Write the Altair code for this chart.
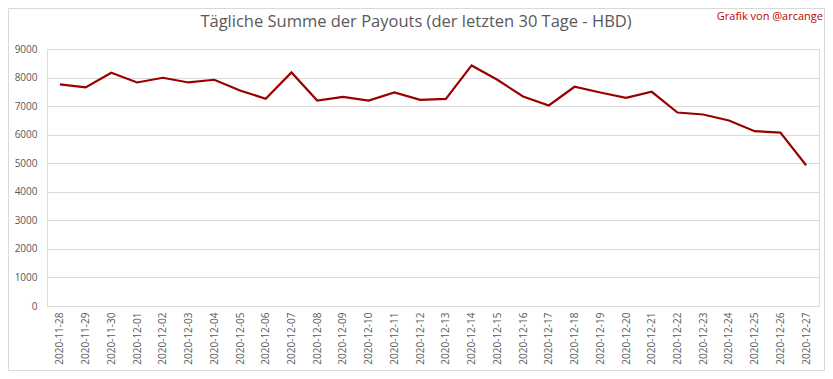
import altair as alt
import pandas as pd

dates = [
    "2020-11-28", "2020-11-29", "2020-11-30", "2020-12-01", "2020-12-02",
    "2020-12-03", "2020-12-04", "2020-12-05", "2020-12-06", "2020-12-07",
    "2020-12-08", "2020-12-09", "2020-12-10", "2020-12-11", "2020-12-12",
    "2020-12-13", "2020-12-14", "2020-12-15", "2020-12-16", "2020-12-17",
    "2020-12-18", "2020-12-19", "2020-12-20", "2020-12-21", "2020-12-22",
    "2020-12-23", "2020-12-24", "2020-12-25", "2020-12-26", "2020-12-27",
]
payouts = [
    7758, 7653, 8168, 7828, 7993,
    7828, 7923, 7547, 7256, 8179,
    7196, 7326, 7196, 7477, 7221,
    7256, 8425, 7923, 7337, 7021,
    7677, 7478, 7291, 7502, 6776,
    6706, 6495, 6123, 6074, 4930,
]
y_ticks = [0, 1000, 2000, 3000, 4000, 5000, 6000, 7000, 8000, 9000]
title_text = "Tägliche Summe der Payouts (der letzten 30 Tage - HBD)"
credit_text = "Grafik von @arcange"

df = pd.DataFrame({"date": dates, "value": payouts})

PAD_L, PAD_T, PAD_R, PAD_B = 39, 41, 6, 65
W, H = 772, 257
GRAY = "#595959"
FONT = "Open Sans"

x_enc = alt.X(
    "date:O",
    sort=dates,
    scale=alt.Scale(type="point", padding=0.5),
    axis=alt.Axis(
        title=None,
        labelAngle=270,
        labelAlign="right",
        labelBaseline="middle",
        labelFontSize=10,
        labelColor=GRAY,
        labelFont=FONT,
        labelPadding=6,
        ticks=False,
        domain=True,
        domainColor="#d9d9d9",
        grid=False,
    ),
)
y_enc = alt.Y(
    "value:Q",
    scale=alt.Scale(domain=[0, 9000], nice=False),
    axis=alt.Axis(
        title=None,
        values=y_ticks,
        format="d",
        labelFontSize=10,
        labelColor=GRAY,
        labelFont=FONT,
        labelPadding=10,
        ticks=False,
        domain=False,
        gridColor="#d9d9d9",
        gridWidth=1,
    ),
)

line = alt.Chart(df).mark_line(color="#990000", strokeWidth=2.2).encode(x=x_enc, y=y_enc)

credit = alt.Chart(pd.DataFrame({"t": [credit_text]})).mark_text(
    align="right", baseline="middle", fontSize=11, font=FONT, color="#c00000"
).encode(text="t:N", x=alt.value(776), y=alt.value(-32))

title = alt.Chart(pd.DataFrame({"t": [title_text]})).mark_text(
    align="center", baseline="middle", fontSize=16.5, font=FONT, color=GRAY
).encode(text="t:N", x=alt.value(369), y=alt.value(-27))

border = alt.Chart(pd.DataFrame({"a": [0]})).mark_rect(
    fill=None, stroke="#d9d9d9", strokeWidth=1
).encode(
    x=alt.value(-PAD_L + 0.5),
    x2=alt.value(W + PAD_R - 0.5),
    y=alt.value(-PAD_T + 0.5),
    y2=alt.value(H + PAD_B - 0.5),
)

chart = alt.layer(border, line, credit, title).properties(
    width=W,
    height=H,
    autosize=alt.AutoSizeParams(type="none"),
    padding={"left": PAD_L, "top": PAD_T, "right": PAD_R, "bottom": PAD_B},
).configure_view(stroke=None).configure(background="white")

chart.save("out.html", embed_options={"renderer": "svg", "actions": False})
